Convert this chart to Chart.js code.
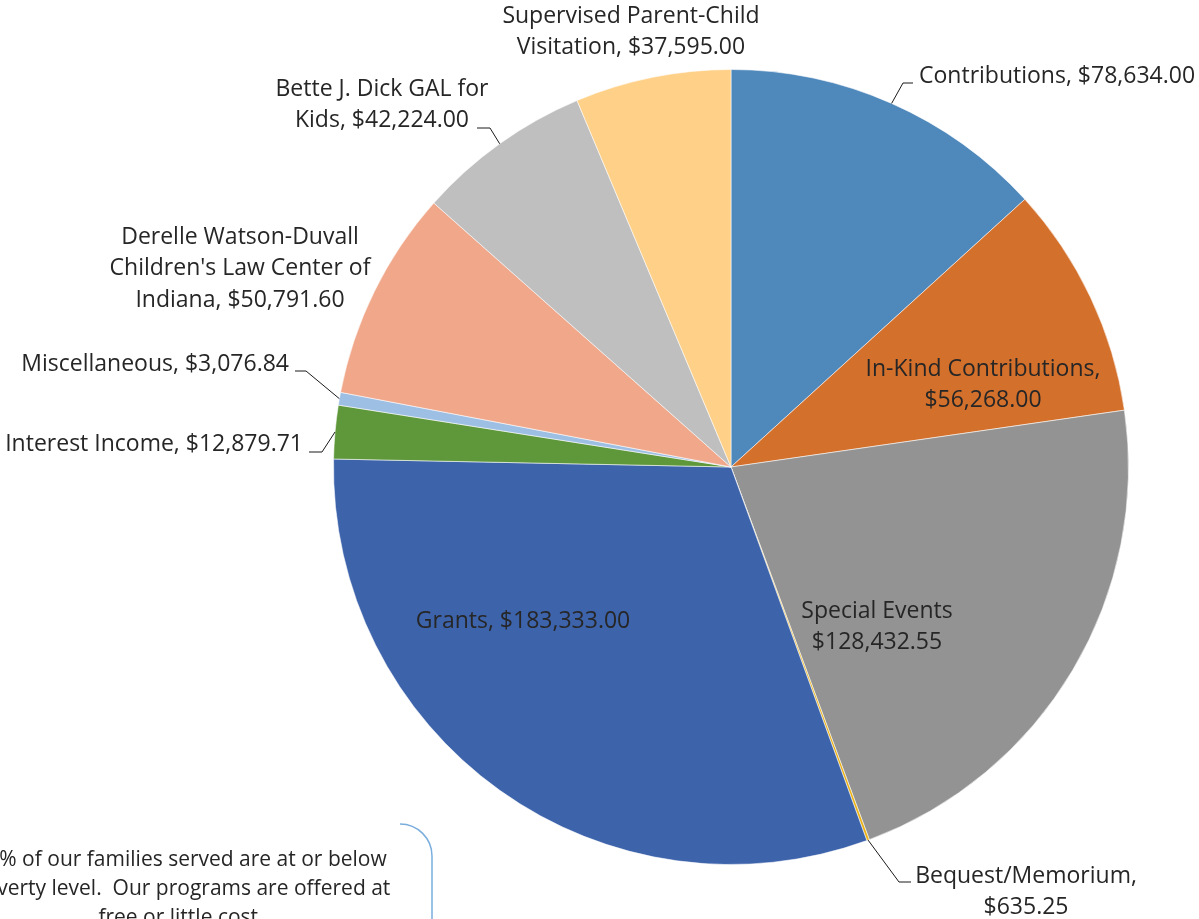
<!DOCTYPE html>
<html>
<head>
  <title>Revenue Sources</title>
  <script src="https://cdn.jsdelivr.net/npm/chart.js"></script>
  <style>
    body { margin: 0; background: #fff; overflow: hidden; }
  </style>
</head>
<body>
  <div style="width: 1199px; height: 919px;">
    <canvas id="revenueChart" width="1199" height="919"></canvas>
  </div>

  <script>
    // Revenue by source, clockwise from 12 o'clock
    const categories = [
      'Contributions',
      'In-Kind Contributions',
      'Special Events',
      'Bequest/Memorium',
      'Grants',
      'Interest Income',
      'Miscellaneous',
      "Derelle Watson-Duvall Children's Law Center of Indiana",
      'Bette J. Dick GAL for Kids',
      'Supervised Parent-Child Visitation'
    ];
    const amounts = [78634.00, 56268.00, 128432.55, 635.25, 183333.00, 12879.71, 3076.84, 50791.60, 42224.00, 37595.00];
    const sliceColors = ['#4F88BB', '#D3702C', '#939393', '#EBB012', '#3D63AB', '#5F983B', '#9DBFE4', '#F0A78A', '#BFBFBF', '#FFD088'];

    const money = v => '$' + v.toLocaleString('en-US', { minimumFractionDigits: 2, maximumFractionDigits: 2 });

    // data label text, broken into lines like the original
    const labelLines = [
      ['Contributions, ' + money(amounts[0])],
      ['In-Kind Contributions,', money(amounts[1])],
      ['Special Events', money(amounts[2])],
      ['Bequest/Memorium,', money(amounts[3])],
      ['Grants, ' + money(amounts[4])],
      ['Interest Income, ' + money(amounts[5])],
      ['Miscellaneous, ' + money(amounts[6])],
      ['Derelle Watson-Duvall', "Children's Law Center of", 'Indiana, ' + money(amounts[7])],
      ['Bette J. Dick GAL for', 'Kids, ' + money(amounts[8])],
      ['Supervised Parent-Child', 'Visitation, ' + money(amounts[9])]
    ];

    const noteLines = [
      '90% of our families served are at or below',
      'poverty level.  Our programs are offered at',
      'free or little cost.'
    ];

    // where each label sits (first line centre), and the bend points of leader lines
    const labelLayout = [
      { x: 919, y: 76, align: 'left', leader: [[903, 83], [913, 83]] },
      { x: 983, y: 369 },
      { x: 877, y: 611 },
      { x: 1026, y: 876, leader: [[899, 882], [911, 882]] },
      { x: 523, y: 621 },
      { x: 303, y: 444, align: 'right', leader: [[322, 452], [309, 452]] },
      { x: 289, y: 364, align: 'right', leader: [[306, 371], [295, 371]] },
      { x: 240, y: 237 },
      { x: 382, y: 89, leader: [[490, 128], [477, 128]] },
      { x: 631, y: 16 }
    ];

    const FONT = '"Open Sans", "Noto Sans", sans-serif';

    const pieLabels = {
      id: 'pieLabels',
      afterDatasetsDraw(chart) {
        const ctx = chart.ctx;
        const arcs = chart.getDatasetMeta(0).data;
        ctx.save();

        // leader lines from the middle of the arc edge
        ctx.strokeStyle = '#1a1a1a';
        ctx.lineWidth = 1;
        labelLayout.forEach((lay, i) => {
          if (!lay.leader) return;
          const a = arcs[i];
          const mid = (a.startAngle + a.endAngle) / 2;
          ctx.beginPath();
          ctx.moveTo(a.x + Math.cos(mid) * a.outerRadius, a.y + Math.sin(mid) * a.outerRadius);
          lay.leader.forEach(p => ctx.lineTo(p[0], p[1]));
          ctx.stroke();
        });

        ctx.fillStyle = '#262626';
        ctx.font = '400 23px ' + FONT;
        ctx.textBaseline = 'middle';
        labelLayout.forEach((lay, i) => {
          ctx.textAlign = lay.align || 'center';
          labelLines[i].forEach((line, k) => {
            ctx.fillText(line, lay.x, lay.y + k * 31.5);
          });
        });

        // side note text box (cut off by the page edge)
        ctx.font = '400 21px ' + FONT;
        ctx.textAlign = 'center';
        noteLines.forEach((line, k) => {
          ctx.fillText(line, 181, 860 + k * 29);
        });
        ctx.strokeStyle = '#7AAEDD';
        ctx.lineWidth = 1.5;
        ctx.beginPath();
        ctx.moveTo(400, 824);
        ctx.arcTo(432, 824, 432, 864, 32);
        ctx.lineTo(432, 925);
        ctx.stroke();

        ctx.restore();
      }
    };

    new Chart(document.getElementById('revenueChart').getContext('2d'), {
      type: 'pie',
      data: {
        labels: categories,
        datasets: [{
          data: amounts,
          backgroundColor: sliceColors,
          borderColor: 'rgba(255,255,255,0.55)',
          borderWidth: 1
        }]
      },
      options: {
        responsive: false,
        animation: false,
        devicePixelRatio: 1,
        layout: { padding: { left: 333, right: 70, top: 69, bottom: 54 } },
        plugins: {
          legend: { display: false },
          tooltip: { enabled: false }
        }
      },
      plugins: [pieLabels]
    });
  </script>
</body>
</html>
